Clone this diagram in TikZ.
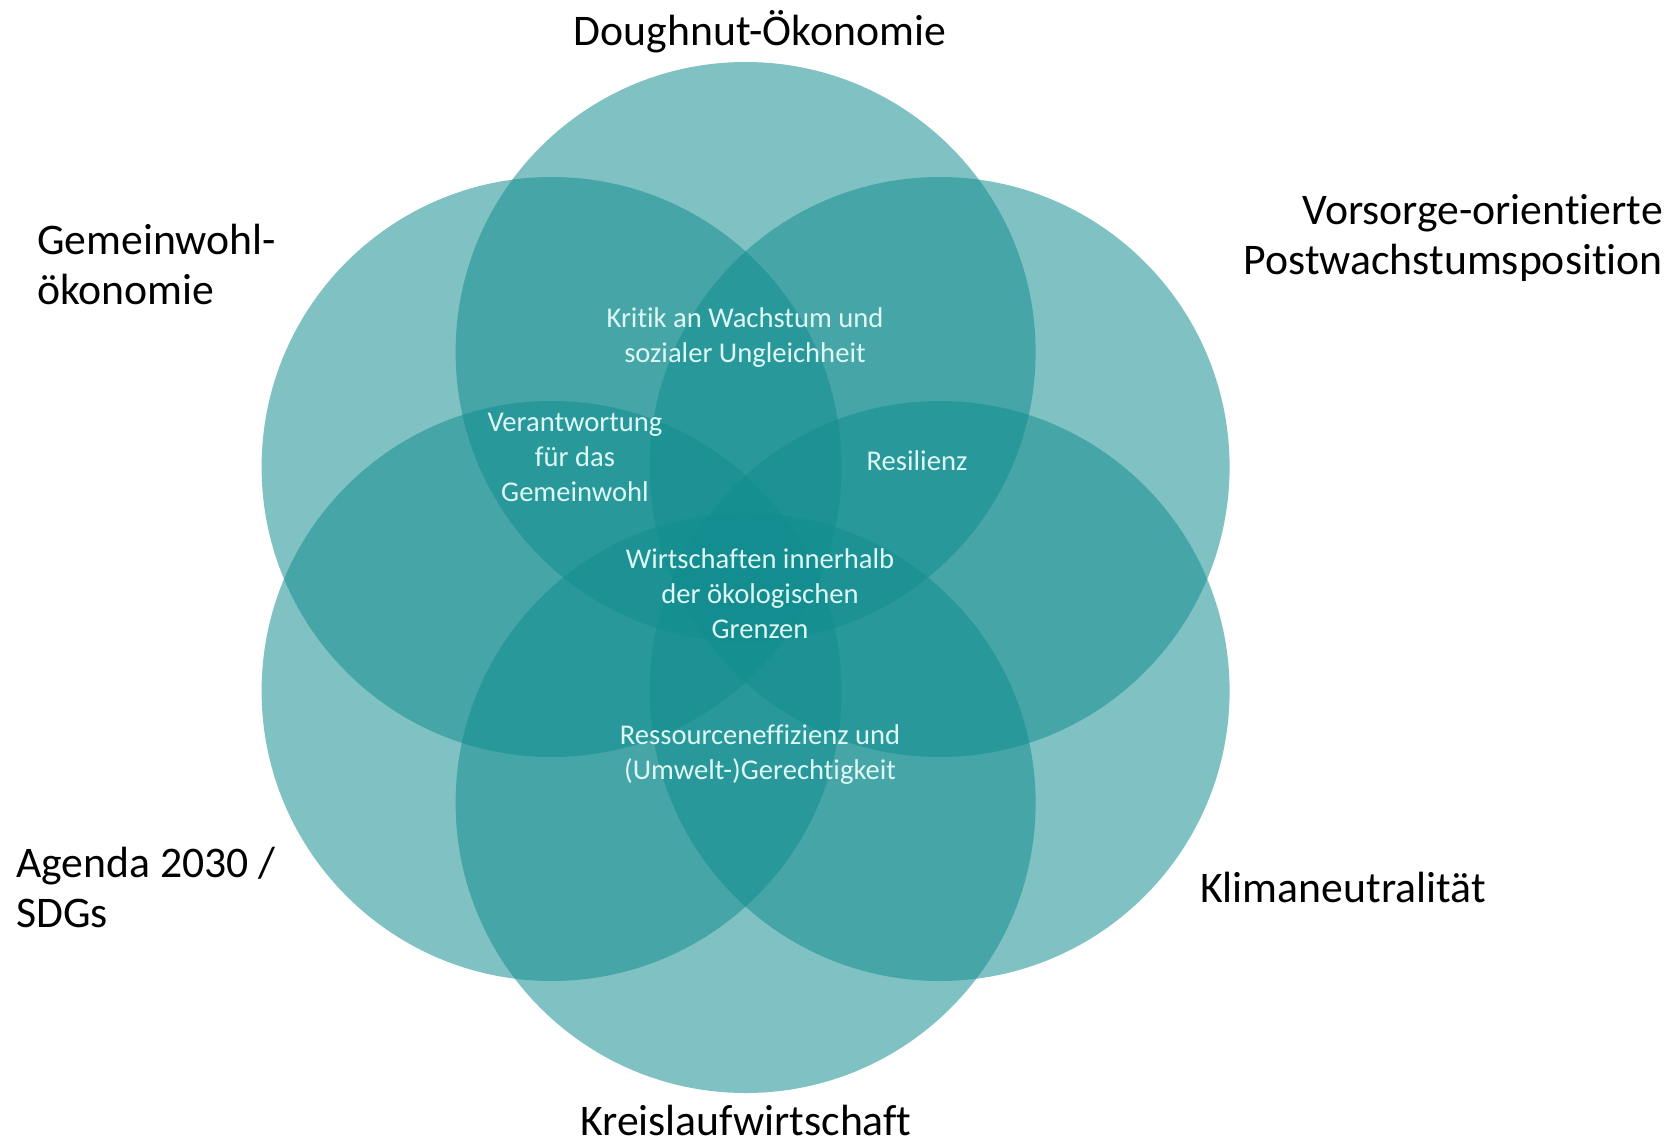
\documentclass[tikz,border=0pt]{standalone}
\usepackage{fontspec}
\setmainfont{Carlito}[RawFeature={-liga}]
\definecolor{teal}{RGB}{18,141,143}
\definecolor{innertxt}{RGB}{222,248,245}
\begin{document}
\begin{tikzpicture}[x=1pt,y=-1pt,
  venn/.style={circle, minimum size=580pt, inner sep=0pt, fill=teal, fill opacity=0.535, draw=none},
  outer/.style={text=black, font=\fontsize{43.7}{50}\selectfont, inner sep=0pt},
  inner/.style={text=innertxt, align=center, font=\fontsize{28.6}{35}\selectfont, inner sep=0pt}]
\useasboundingbox (0,0) rectangle (1675,1146);
\fill[white] (0,0) rectangle (1675,1146);
\node[venn] (top) at (745.6,352) {};
\node[venn] (ul) at (551.6,467) {};
\node[venn] (ur) at (939.6,467) {};
\node[venn] (ll) at (551.6,691) {};
\node[venn] (lr) at (939.6,691) {};
\node[venn] (bot) at (745.6,803) {};
\node[outer] (tDough) at (760,32) {Doughnut-Ökonomie};
\node[outer, anchor=west, align=left] (tGemein) at (37,264) {Gemeinwohl-\\ökonomie};
\node[outer, anchor=east, align=right] (tVors) at (1663,238) {Vorsorge-orientierte\\Postwachstumsposition};
\node[outer, anchor=west, align=left] (tAgenda) at (16,887) {Agenda 2030 /\\SDGs};
\node[outer, anchor=west] (tKlima) at (1200,887) {Klimaneutralität};
\node[outer] (tKreis) at (746,1120) {Kreislaufwirtschaft};
\node[inner] (iKritik) at (745,338) {Kritik an Wachstum und\\sozialer Ungleichheit};
\node[inner] (iVerant) at (575,457) {Verantwortung\\für das\\Gemeinwohl};
\node[inner] (iResil) at (917,461) {Resilienz};
\node[inner] (iWirt) at (760,594) {Wirtschaften innerhalb\\der ökologischen\\Grenzen};
\node[inner] (iRess) at (760,755) {Ressourceneffizienz und\\(Umwelt-)Gerechtigkeit};
\end{tikzpicture}
\end{document}
